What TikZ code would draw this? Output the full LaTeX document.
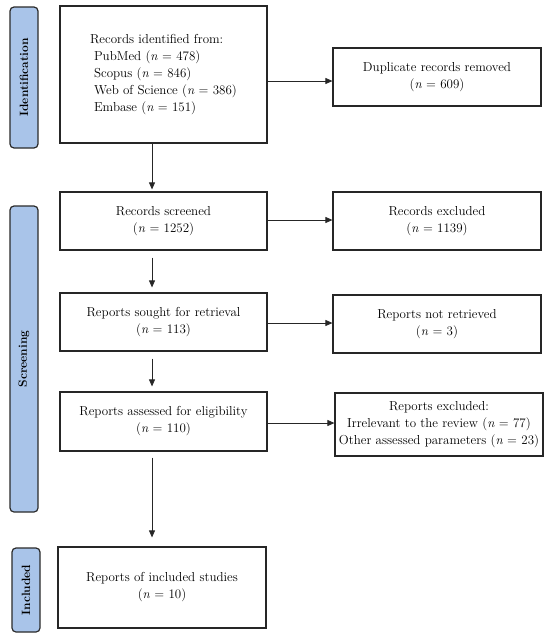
\documentclass[tikz,border=0pt]{standalone}
\usetikzlibrary{arrows.meta}
\definecolor{sidefill}{HTML}{A9C4E9}
\definecolor{sidedraw}{HTML}{2B2B2B}
\begin{document}
\begin{tikzpicture}[x=1pt,y=-1pt,
  flowbox/.style={draw=black!85, line width=1.2pt, rectangle, align=center, inner sep=2pt,
    font=\fontsize{13}{17}\selectfont},
  sidebox/.style={draw=sidedraw, line width=1.2pt, fill=sidefill, rounded corners=4pt,
    rotate=90, minimum height=28pt, inner sep=0pt, font=\fontsize{12}{14}\selectfont\bfseries},
  flowarrow/.style={-{Triangle[length=7pt,width=6pt]}, line width=0.8pt, black!85}]
\useasboundingbox (0,0) rectangle (550,637);
\fill[white] (0,0) rectangle (550,637);

% side labels
\node[sidebox, minimum width=141pt] (sid) at (24,77.5) {Identification};
\node[sidebox, minimum width=306pt] (sscr) at (24,359) {Screening};
\node[sidebox, minimum width=84pt] (sinc) at (26,590) {Included};

% left column
\node[flowbox, minimum width=207pt, minimum height=137pt] (ident) at (163.5,74.5)
  {\begin{tabular}{@{}l@{}}Records identified from:\\
   \hspace{4pt}PubMed (\textit{n} = 478)\\
   \hspace{4pt}Scopus (\textit{n} = 846)\\
   \hspace{4pt}Web of Science (\textit{n} = 386)\\
   \hspace{4pt}Embase (\textit{n} = 151)\end{tabular}};
\node[flowbox, minimum width=207pt, minimum height=58pt] (screened) at (163.5,221)
  {Records screened\\(\textit{n} = 1252)};
\node[flowbox, minimum width=207pt, minimum height=58pt] (sought) at (163.5,322)
  {Reports sought for retrieval\\(\textit{n} = 113)};
\node[flowbox, minimum width=207pt, minimum height=59pt] (assessed) at (163.5,421.5)
  {Reports assessed for eligibility\\(\textit{n} = 110)};
\node[flowbox, minimum width=208pt, minimum height=81pt] (included) at (162,587.5)
  {Reports of included studies\\(\textit{n} = 10)};

% right column
\node[flowbox, minimum width=208pt, minimum height=58pt] (dup) at (437,77)
  {Duplicate records removed\\(\textit{n} = 609)};
\node[flowbox, minimum width=208pt, minimum height=58pt] (excl) at (437,221)
  {Records excluded\\(\textit{n} = 1139)};
\node[flowbox, minimum width=208pt, minimum height=58pt] (notret) at (437,324)
  {Reports not retrieved\\(\textit{n} = 3)};
\node[flowbox, minimum width=208pt, minimum height=63pt, inner sep=1pt] (repexcl) at (439,424.5)
  {Reports excluded:\\Irrelevant to the review (\textit{n} = 77)\\Other assessed parameters (\textit{n} = 23)};

% arrow axis
\coordinate (ax) at (152,0);

% vertical arrows
\draw[flowarrow] (ident.south -| ax) -- ([yshift=2pt]screened.north -| ax);
\draw[flowarrow] ([yshift=-7pt]screened.south -| ax) -- ([yshift=5pt]sought.north -| ax);
\draw[flowarrow] ([yshift=-7pt]sought.south -| ax) -- ([yshift=5pt]assessed.north -| ax);
\draw[flowarrow] ([yshift=-6pt]assessed.south -| ax) -- ([yshift=9pt]included.north -| ax);

% horizontal arrows
\draw[flowarrow] (ident.east |- 0,81) -- (dup.west |- 0,81);
\draw[flowarrow] (screened.east |- 0,220) -- (excl.west |- 0,220);
\draw[flowarrow] (sought.east |- 0,323) -- (notret.west |- 0,323);
\draw[flowarrow] (assessed.east |- 0,423) -- (repexcl.west |- 0,423);
\end{tikzpicture}
\end{document}
